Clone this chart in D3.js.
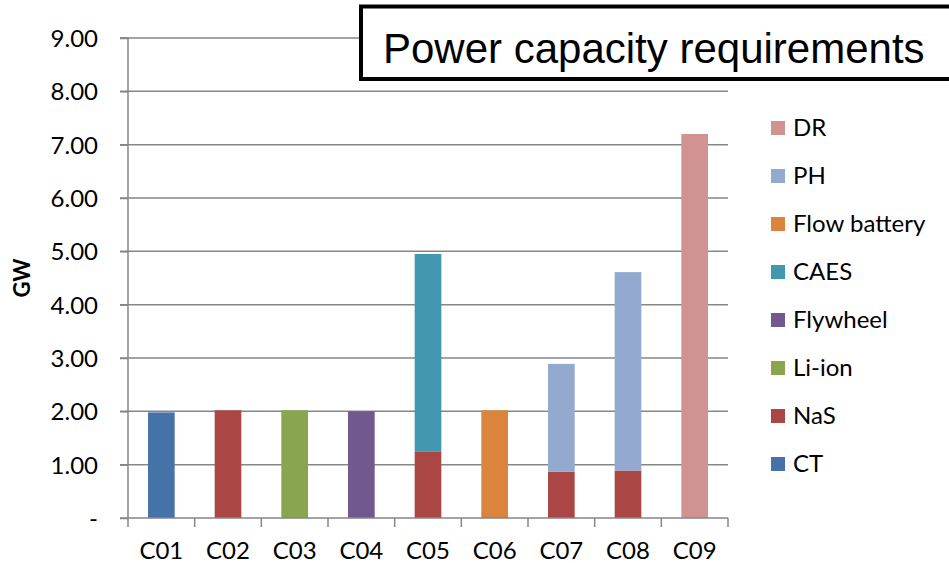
<!DOCTYPE html>
<html>
<head>
<meta charset="utf-8">
<script src="https://cdn.jsdelivr.net/npm/d3@7"></script>
<style>
  html, body { margin: 0; padding: 0; background: #fff; }
  svg text { font-family: Lato, "Open Sans", sans-serif; }
  svg text.title { font-family: "Liberation Sans", Arial, sans-serif; }
</style>
</head>
<body>
<svg id="chart" width="949" height="563"></svg>
<script>
// cases on the x axis
const cases = ["C01", "C02", "C03", "C04", "C05", "C06", "C07", "C08", "C09"];

// technologies, bottom of stack first
const techs = ["CT", "NaS", "Li-ion", "Flywheel", "CAES", "Flow battery", "PH", "DR"];

// GW per technology, one value per case
const ct       = [1.98, 0, 0, 0, 0, 0, 0, 0, 0];
const nas      = [0, 2.02, 0, 0, 1.24, 0, 0.87, 0.89, 0];
const liion    = [0, 0, 2.02, 0, 0, 0, 0, 0, 0];
const flywheel = [0, 0, 0, 2.00, 0, 0, 0, 0, 0];
const caes     = [0, 0, 0, 0, 3.71, 0, 0, 0, 0];
const flow     = [0, 0, 0, 0, 0, 2.02, 0, 0, 0];
const ph       = [0, 0, 0, 0, 0, 0, 2.02, 3.72, 0];
const dr       = [0, 0, 0, 0, 0, 0, 0, 0, 7.20];

const yTicks = [0, 1, 2, 3, 4, 5, 6, 7, 8, 9];

const colors = ["#4572A7", "#AA4643", "#89A54E", "#71588F", "#4198AF", "#DB843D", "#93A9CF", "#D19392"];

const seriesValues = [ct, nas, liion, flywheel, caes, flow, ph, dr];
const table = cases.map((c, i) => {
    const row = { case: c };
    techs.forEach((t, k) => row[t] = seriesValues[k][i]);
    return row;
});

const svg = d3.select("#chart");
const plotL = 128, plotR = 728, plotT = 38, plotB = 518;

const x = d3.scaleBand().domain(cases).range([plotL, plotR]).paddingInner(0.6).paddingOuter(0.3);
const xEdges = d3.scaleLinear().domain([0, cases.length]).range([plotL, plotR]);
const y = d3.scaleLinear().domain([0, 9]).range([plotB, plotT]);

const color = d3.scaleOrdinal().domain(techs).range(colors);

// gridlines
svg.append("g")
    .selectAll("line")
    .data(yTicks.slice(1))
    .join("line")
    .attr("x1", plotL - 8).attr("x2", plotR)
    .attr("y1", d => y(d)).attr("y2", d => y(d))
    .attr("stroke", "#868686").attr("stroke-width", 1.5);

// y axis
const yAxis = svg.append("g")
    .attr("transform", `translate(${plotL},0)`)
    .call(d3.axisLeft(y).tickValues(yTicks).tickSize(8).tickPadding(22)
        .tickFormat(d => d === 0 ? "-" : d3.format(".2f")(d)));
yAxis.selectAll("line, path").attr("stroke", "#868686").attr("stroke-width", 1.5);
yAxis.select(".domain").attr("d", `M-8,${plotB}H0V${plotT}H-8`);
yAxis.selectAll("text").attr("font-size", 24).attr("fill", "#000")
    .attr("font-family", "Lato, sans-serif").attr("dy", "0.35em");
yAxis.selectAll(".tick text").attr("x", -30);

// stacked bars
const stack = d3.stack().keys(techs)(table);
svg.append("g")
    .selectAll("g")
    .data(stack)
    .join("g")
    .attr("fill", d => color(d.key))
    .selectAll("rect")
    .data(d => d.filter(p => p[1] - p[0] > 0))
    .join("rect")
    .attr("x", d => x(d.data.case))
    .attr("width", x.bandwidth())
    .attr("y", d => y(d[1]))
    .attr("height", d => y(d[0]) - y(d[1]));

// x axis
svg.append("line")
    .attr("x1", plotL).attr("x2", plotR)
    .attr("y1", plotB).attr("y2", plotB)
    .attr("stroke", "#868686").attr("stroke-width", 1.5);
svg.append("g")
    .selectAll("line")
    .data(d3.range(cases.length + 1))
    .join("line")
    .attr("x1", d => xEdges(d)).attr("x2", d => xEdges(d))
    .attr("y1", plotB).attr("y2", plotB + 9)
    .attr("stroke", "#868686").attr("stroke-width", 1.5);
svg.append("g")
    .selectAll("text")
    .data(cases)
    .join("text")
    .attr("x", d => x(d) + x.bandwidth() / 2)
    .attr("y", 559)
    .attr("text-anchor", "middle")
    .attr("font-size", 24)
    .text(d => d);

// y label
svg.append("text")
    .attr("transform", `translate(30,${(plotT + plotB) / 2}) rotate(-90)`)
    .attr("text-anchor", "middle")
    .attr("font-size", 22)
    .attr("font-weight", "bold")
    .text("GW");

// legend, top entry is last series
const legendItems = techs.slice().reverse();
const legend = svg.append("g")
    .selectAll("g")
    .data(legendItems)
    .join("g")
    .attr("transform", (d, i) => `translate(771,${128 + i * 48})`);
legend.append("rect")
    .attr("x", 0).attr("y", -7).attr("width", 14).attr("height", 14)
    .attr("fill", d => color(d));
legend.append("text")
    .attr("x", 22).attr("dy", "0.35em")
    .attr("font-size", 24)
    .text(d => d);

// title box
svg.append("rect")
    .attr("x", 361).attr("y", 6.5).attr("width", 600).attr("height", 72.5)
    .attr("fill", "#fff").attr("stroke", "#000").attr("stroke-width", 4);
svg.append("text")
    .attr("class", "title")
    .attr("x", 383).attr("y", 63)
    .attr("font-size", 42)
    .text("Power capacity requirements");
</script>
</body>
</html>
